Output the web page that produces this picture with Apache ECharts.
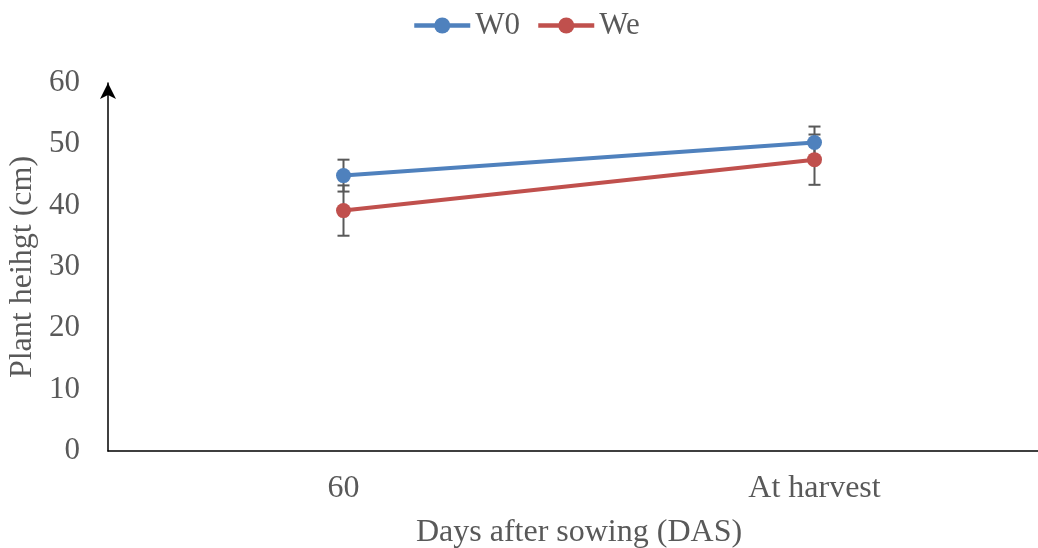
<!DOCTYPE html>
<html><head><meta charset="utf-8">
<script src="https://cdn.jsdelivr.net/npm/echarts@6/dist/echarts.min.js"></script>
<style>html,body{margin:0;padding:0;background:#fff}#c{width:1038px;height:548px}</style>
</head><body><div id="c"></div>
<script>
const categories = ['60', 'At harvest'];
const seriesNames = ['W0', 'We'];
const w0 = [44.9, 50.3];
const we = [39.2, 47.5];
const w0Err = [2.6, 2.6];
const weErr = [4.1, 4.1];
const yTicks = [0, 10, 20, 30, 40, 50, 60];

const colors = ['#4f81bd', '#c0504d'];
const font = '"Liberation Serif", "Times New Roman", serif';
const chart = echarts.init(document.getElementById('c'));

function errData(vals, errs) {
  return vals.map((v, i) => [i, v - errs[i], v + errs[i]]);
}
function renderErr(params, api) {
  const x = api.value(0);
  const lo = api.coord([x, api.value(1)]);
  const hi = api.coord([x, api.value(2)]);
  const hw = 6;
  const style = { stroke: '#595959', lineWidth: 2 };
  return {
    type: 'group',
    children: [
      { type: 'line', shape: { x1: lo[0], y1: lo[1], x2: hi[0], y2: hi[1] }, style },
      { type: 'line', shape: { x1: lo[0] - hw, y1: lo[1], x2: lo[0] + hw, y2: lo[1] }, style },
      { type: 'line', shape: { x1: hi[0] - hw, y1: hi[1], x2: hi[0] + hw, y2: hi[1] }, style }
    ]
  };
}

chart.setOption({
  animation: false,
  color: colors,
  legend: {
    data: seriesNames,
    top: 5,
    left: 407,
    itemWidth: 56,
    itemHeight: 20,
    itemGap: 16,
    lineStyle: { width: 4.5 },
    textStyle: { fontFamily: font, fontSize: 31, color: '#595959' }
  },
  grid: { left: 108, top: 83, bottom: 97, width: 942, outerBoundsMode: 'none', containLabel: false },
  xAxis: {
    type: 'category',
    data: categories,
    boundaryGap: true,
    axisLine: { show: true, lineStyle: { color: '#000', width: 1.5 }, symbol: ['none', 'arrow'], symbolSize: [8, 12] },
    axisTick: { show: false },
    axisLabel: { fontFamily: font, fontSize: 32, color: '#595959', margin: 22 },
    name: 'Days after sowing (DAS)',
    nameLocation: 'middle',
    nameGap: 66,
    nameTextStyle: { fontFamily: font, fontSize: 32, color: '#595959' }
  },
  yAxis: {
    type: 'value',
    min: yTicks[0],
    max: yTicks[yTicks.length - 1],
    interval: yTicks[1] - yTicks[0],
    axisLine: { show: true, lineStyle: { color: '#000', width: 1.5 }, symbol: ['none', 'arrow'], symbolSize: [12, 16] },
    axisTick: { show: false },
    splitLine: { show: false },
    axisLabel: { fontFamily: font, fontSize: 31, color: '#595959', margin: 28 },
    name: 'Plant heihgt (cm)',
    nameLocation: 'middle',
    nameGap: 64,
    nameTextStyle: { fontFamily: font, fontSize: 32, color: '#595959' }
  },
  series: [
    {
      name: seriesNames[0], type: 'line', data: w0, z: 5,
      symbol: 'circle', symbolSize: 15,
      lineStyle: { width: 4, color: colors[0] }, itemStyle: { color: colors[0] }
    },
    {
      name: seriesNames[1], type: 'line', data: we, z: 5,
      symbol: 'circle', symbolSize: 15,
      lineStyle: { width: 4, color: colors[1] }, itemStyle: { color: colors[1] }
    },
    { type: 'custom', renderItem: renderErr, data: errData(w0, w0Err), z: 3, encode: { x: 0, y: [1, 2] } },
    { type: 'custom', renderItem: renderErr, data: errData(we, weErr), z: 3, encode: { x: 0, y: [1, 2] } }
  ]
});
</script></body></html>
